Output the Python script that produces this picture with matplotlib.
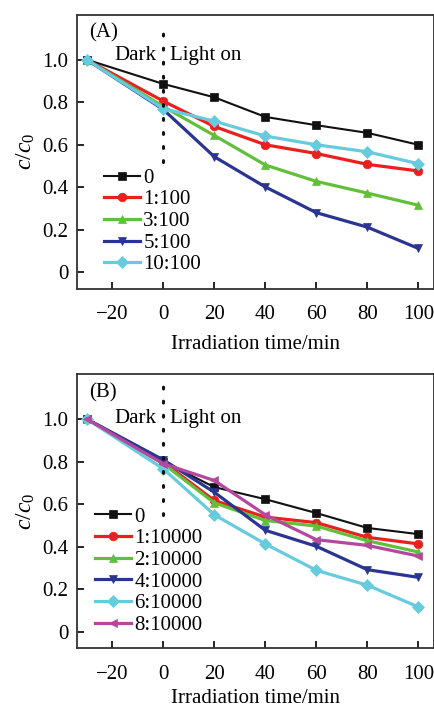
import matplotlib
matplotlib.use("Agg")
import matplotlib.pyplot as plt

plt.rcParams['font.family'] = ['Liberation Serif', 'DejaVu Serif']
plt.rcParams['mathtext.fontset'] = 'custom'
plt.rcParams['mathtext.rm'] = 'Liberation Serif'
plt.rcParams['mathtext.it'] = 'Liberation Serif:italic'

time = [-30, 0, 20, 40, 60, 80, 100]

labels_a = ['0', '1:100', '3:100', '5:100', '10:100']
a_0 = [1.0, 0.886, 0.823, 0.731, 0.692, 0.656, 0.600]
a_1 = [1.0, 0.805, 0.686, 0.600, 0.559, 0.508, 0.477]
a_3 = [1.0, 0.780, 0.644, 0.505, 0.428, 0.373, 0.316]
a_5 = [1.0, 0.766, 0.544, 0.402, 0.281, 0.213, 0.113]
a_10 = [1.0, 0.770, 0.711, 0.641, 0.600, 0.567, 0.511]

labels_b = ['0', '1:10000', '2:10000', '4:10000', '6:10000', '8:10000']
b_0 = [1.0, 0.800, 0.680, 0.623, 0.558, 0.488, 0.459]
b_1 = [1.0, 0.797, 0.617, 0.539, 0.513, 0.444, 0.413]
b_2 = [1.0, 0.790, 0.606, 0.523, 0.497, 0.428, 0.375]
b_4 = [1.0, 0.808, 0.656, 0.477, 0.402, 0.292, 0.256]
b_6 = [1.0, 0.766, 0.550, 0.413, 0.289, 0.219, 0.117]
b_8 = [1.0, 0.790, 0.711, 0.550, 0.433, 0.406, 0.356]

xticks = [-20, 0, 20, 40, 60, 80, 100]
yticks = [0, 0.2, 0.4, 0.6, 0.8, 1.0]
ytick_labels = ['0', '0.2', '0.4', '0.6', '0.8', '1.0']

black = '#111111'
red = '#e8211f'
green = '#62bf3a'
blue = '#2a3592'
cyan = '#66cbdd'
magenta = '#b5479f'

style_a = [
    (a_0, black, 's', 1.5),
    (a_1, red, 'o', 2.3),
    (a_3, green, '^', 2.3),
    (a_5, blue, 'v', 2.3),
    (a_10, cyan, 'D', 2.3),
]
style_b = [
    (b_0, black, 's', 1.5),
    (b_1, red, 'o', 2.3),
    (b_2, green, '^', 2.3),
    (b_4, blue, 'v', 2.3),
    (b_6, cyan, 'D', 2.3),
    (b_8, magenta, '<', 2.3),
]

fig = plt.figure(figsize=(4.35, 7.11), dpi=100)
ax_a = fig.add_axes([0.177, 0.594, 0.820, 0.385])
ax_b = fig.add_axes([0.177, 0.0886, 0.820, 0.385])

fs = 15

def draw(ax, styles, labels, tag, dotted_bottom, legend_xy, text_y, xlpad):
    for (vals, col, mk, lw), lab in zip(styles, labels):
        ms = 6.2 if mk != 'D' else 6.0
        ax.plot(time, vals, color=col, marker=mk, markersize=ms, lw=lw,
                label=lab, markeredgewidth=0.5, markeredgecolor=col)
    ax.plot([0, 0], [dotted_bottom, 1.165], color='#111111', lw=2.2,
            linestyle=(0, (0.6, 4.0)), dash_capstyle='round')
    ax.set_xlim(-33.8, 106)
    ax.set_ylim(-0.076, 1.21)
    ax.set_xticks(xticks)
    ax.set_xticklabels([str(t).replace('-', '\u2212') for t in xticks])
    ax.set_yticks(yticks)
    ax.set_yticklabels(ytick_labels)
    ax.tick_params(direction='in', length=5, width=1.2, labelsize=fs,
                   top=False, right=False)
    ax.tick_params(axis='x', pad=12)
    ax.tick_params(axis='y', pad=6)
    for sp in ax.spines.values():
        sp.set_linewidth(1.3)
        sp.set_color('#333333')
    ax.set_xlabel('Irradiation time/min', fontsize=fs, labelpad=xlpad)
    ax.set_ylabel(r'$\it{c}/\it{c}_{\rm 0}$', fontsize=17, labelpad=4)
    ax.text(-29, 1.125, tag, fontsize=fs, va='center', ha='left')
    ax.text(-2.5, text_y, 'Dark', fontsize=fs, va='center', ha='right')
    ax.text(2.6, text_y, 'Light on', fontsize=fs, va='center', ha='left')
    ax.legend(loc='upper left', bbox_to_anchor=legend_xy, frameon=False,
              fontsize=fs, handlelength=1.75, handletextpad=0.15,
              labelspacing=0.1, borderpad=0, borderaxespad=0)

draw(ax_a, style_a, labels_a, '(A)', 0.52, (0.075, 0.44), 1.02, 8)
draw(ax_b, style_b, labels_b, '(B)', 0.55, (0.05, 0.515), 1.0, 4)

fig.savefig('out.png', dpi=100)
